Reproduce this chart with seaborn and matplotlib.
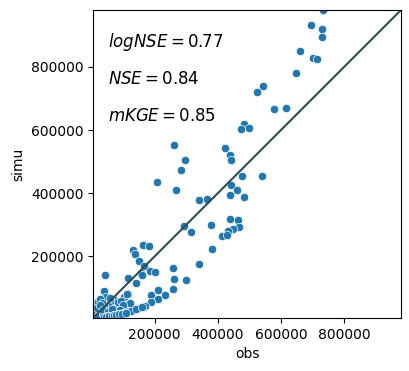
import numpy as np
import pandas as pd
import seaborn as sns
import matplotlib
matplotlib.use("Agg")
import matplotlib.pyplot as plt

obs = [
    733400, 696500, 729300, 729300, 660400, 700700, 715600, 647700, 542900, 522900,
    576900, 617200, 482600, 473100, 499700, 261600, 423500, 438100, 441300, 295300,
    284800, 206400, 475300, 539700, 441300, 266700, 459400, 438100, 482600, 341900,
    365100, 292100, 314300, 377800, 438100, 462600, 466700, 448900, 433000, 412700,
    429900, 381000, 341000, 130200, 136500, 163200, 181000, 151400, 165100, 156800,
    186400, 200000, 257200, 260300, 298400, 43500, 114300, 139700, 160000, 257200,
    209500, 231800, 187300, 209500, 187300, 170500, 151400, 131400, 38100, 115600,
    101600, 120600, 75200, 88900, 17100, 17100, 112400, 75200,
    # cluster near origin
    12000, 15000, 20000, 25000, 30000, 40000, 45000, 50000, 55000, 60000,
    65000, 70000, 80000, 85000, 95000, 100000, 6000, 10000, 20000, 35000,
    45000, 28000, 33000, 58000, 18000, 26000, 38000, 52000, 66000, 90000,
    # lower branch
    40000, 50000, 60000, 70000, 75000, 80000, 85000, 90000, 95000, 100000,
    105000, 110000, 115000, 120000, 125000, 142000, 160000, 45000, 55000, 65000,
    72000, 78000, 88000, 98000, 108000,
]
simu = [
    980000, 931100, 918400, 894100, 849800, 826700, 823500, 780200, 738100, 719100,
    665300, 668400, 618700, 602000, 605100, 551300, 542800, 519700, 503900, 503900,
    472200, 435200, 453200, 453200, 425700, 408900, 408900, 393100, 386800, 377300,
    380400, 295000, 276000, 298100, 317100, 314000, 291800, 285500, 280100, 263300,
    266500, 222200, 174700, 220900, 206400, 234800, 231700, 186100, 169300, 146200,
    153500, 149400, 162000, 127200, 124100, 140800, 132300, 114600, 139900, 96500,
    92400, 76600, 76600, 63900, 55400, 43700, 36400, 30100, 89300, 80700,
    72200, 53200, 53200, 49100, 44900, 56000, 82000, 61700,
    # cluster near origin
    20000, 30000, 55000, 25000, 40000, 60000, 72000, 35000, 50000, 28000,
    45000, 62000, 38000, 55000, 60000, 45000, 5000, 15000, 12000, 18000,
    20000, 65000, 52000, 68000, 35000, 47000, 30000, 24000, 33000, 30000,
    # lower branch
    8000, 10000, 11000, 13000, 14000, 15000, 16000, 17000, 18500, 20000,
    21500, 23000, 25000, 27000, 28500, 33000, 40000, 9000, 10500, 12000,
    13500, 14500, 16500, 19000, 22000,
]

metrics = [("logNSE", 0.77), ("NSE", 0.84), ("mKGE", 0.85)]

df = pd.DataFrame({"obs": obs, "simu": simu})

fig, ax = plt.subplots(figsize=(4.1, 3.71), dpi=100)
fig.subplots_adjust(left=0.227, right=0.978, bottom=0.143, top=0.973)

sns.scatterplot(data=df, x="obs", y="simu", ax=ax)

lo = min(df["obs"].min(), df["simu"].min())
hi = max(df["obs"].max(), df["simu"].max())
ax.plot([lo, hi], [lo, hi], color="darkslategray")
ax.set_xlim(lo, hi)
ax.set_ylim(lo, hi)
ax.set_xticks([200000, 400000, 600000, 800000])
ax.set_yticks([200000, 400000, 600000, 800000])

for i, (name, val) in enumerate(metrics):
    ax.text(0.05, 0.895 - i * 0.119, f"${name} = {val:.2f}$", transform=ax.transAxes,
            fontsize=12, va="center", ha="left")

plt.savefig("out.png", dpi=100)
plt.close()
